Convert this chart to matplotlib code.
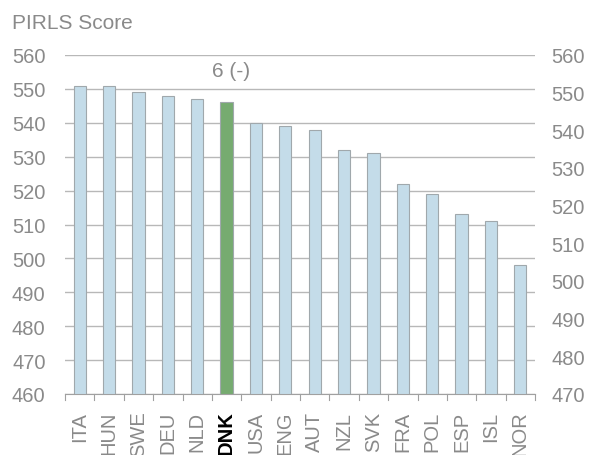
import numpy as np
import matplotlib.pyplot as plt

plt.rcParams['font.family'] = ['Liberation Sans', 'DejaVu Sans']

countries = ["ITA", "HUN", "SWE", "DEU", "NLD", "DNK", "USA", "ENG",
             "AUT", "NZL", "SVK", "FRA", "POL", "ESP", "ISL", "NOR"]
scores = [551, 551, 549, 548, 547, 546, 540, 539, 538, 532, 531, 522, 519, 513, 511, 498]
highlight = "DNK"
rank_label = "6 (-)"
left_ticks = list(range(460, 561, 10))
right_ticks = list(range(470, 561, 10))

grey = "#8a8a8a"
blue = "#c4dce9"
green = "#76ab70"

fig = plt.figure(figsize=(5.9, 4.56), dpi=100)
ax = fig.add_axes([65 / 590, 61 / 456, 470 / 590, 339 / 456])

x = np.arange(len(countries))
colors = [green if c == highlight else blue for c in countries]
ax.bar(x, np.array(scores) - 460, bottom=460, width=0.42, color=colors,
       edgecolor="#a0a8ac", linewidth=0.8, zorder=3)

ax.set_xlim(-0.5, len(countries) - 0.5)
ax.set_ylim(460, 560)
ax.set_yticks(left_ticks)
ax.yaxis.grid(True, color="#b8b8b8", linewidth=1.0, zorder=0)
ax.tick_params(axis="y", length=0, labelsize=14.5, labelcolor=grey, pad=14)

ax.set_xticks(x)
ax.set_xticklabels(countries, rotation=90, fontsize=14.5, color=grey, va="top")
for lbl in ax.get_xticklabels():
    if lbl.get_text() == highlight:
        lbl.set_color("black")
        lbl.set_fontweight("bold")
ax.tick_params(axis="x", length=0, pad=12)
# small ticks at category boundaries
for b in np.arange(-0.5, len(countries) + 0.5, 1):
    ax.plot([b, b], [460, 458.2], color="#a0a0a0", linewidth=0.8, clip_on=False)

for s in ["top", "left", "right"]:
    ax.spines[s].set_visible(False)
ax.spines["bottom"].set_color("#a0a0a0")

ax2 = ax.twinx()
ax2.set_ylim(470, 560)
ax2.set_yticks(right_ticks)
ax2.tick_params(axis="y", length=0, labelsize=14.5, labelcolor=grey, pad=12)
for s in ax2.spines.values():
    s.set_visible(False)

hi = countries.index(highlight)
ax.text(hi + 0.15, 555.4, rank_label, ha="center", va="center", fontsize=15, color=grey)

fig.text(12 / 590, 1 - 24 / 456, "PIRLS Score", fontsize=15, color=grey, va="center")

fig.savefig("out.png", dpi=100)
